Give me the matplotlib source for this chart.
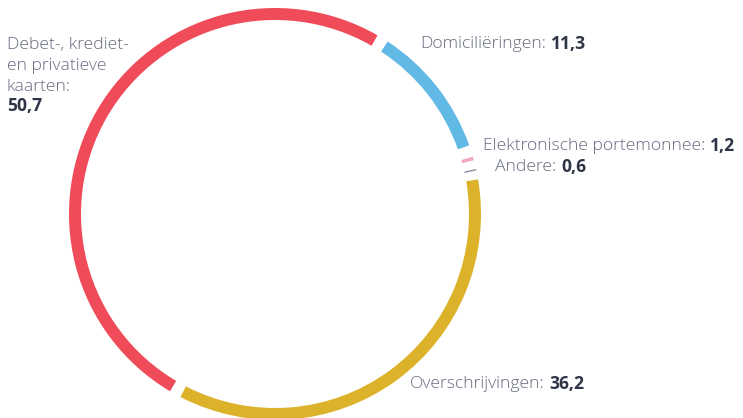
import matplotlib.pyplot as plt
from matplotlib.patches import Wedge

# Data
labels = ["Domiciliëringen", "Elektronische portemonnee", "Andere",
          "Overschrijvingen", "Debet-, krediet-\nen privatieve\nkaarten"]
values = [11.3, 1.2, 0.6, 36.2, 50.7]
value_text = ["11,3", "1,2", "0,6", "36,2", "50,7"]
colors = ["#62B9E6", "#F3A9C4", "#8C90A0", "#DDB22B", "#F04B59"]

W, H = 743, 418
fig = plt.figure(figsize=(W / 100, H / 100), dpi=100)
ax = fig.add_axes([0, 0, 1, 1])
ax.set_xlim(0, W)
ax.set_ylim(0, H)
ax.set_aspect("equal")
ax.axis("off")

# ring, drawn clockwise from ~31 deg right of the top, with a padding angle
cx, cy = 275, H - 214
r_out, ring_w = 206, 12
start = 31.5   # degrees clockwise from 12 o'clock
pad = 3.3      # degrees of white between segments
total = sum(values)
a = start
for v, c in zip(values, colors):
    span = v / total * 360
    a0, a1 = a + pad / 2, a + span - pad / 2
    if a1 - a0 < 0.4:  # too small after padding -> thin tick at the middle
        mid = a + span / 2
        a0, a1 = mid - 0.2, mid + 0.2
    ax.add_patch(Wedge((cx, cy), r_out, 90 - a1, 90 - a0, width=ring_w,
                       facecolor=c, edgecolor="none"))
    a += span

txt_col = "#666B80"
num_col = "#2F3447"
fs = 12.6
font = "Open Sans"

# label anchor positions (pixel coords from top-left)
label_pos = [(420, 44), (483, 146), (495, 167), (410, 384)]

fig.canvas.draw()
renderer = fig.canvas.get_renderer()
for i, (x, y) in enumerate(label_pos):
    t = ax.text(x, H - y, labels[i] + ":", fontsize=fs, color=txt_col,
                family=font, weight=300, va="center", ha="left")
    bb = t.get_window_extent(renderer)
    ax.text(bb.x1 + 5, H - y, value_text[i], fontsize=fs, color=num_col,
            family=font, weight="bold", va="center", ha="left")

# multi-line label for the cards
lines = (labels[4] + ":").split("\n")
for k, line in enumerate(lines):
    ax.text(7, H - (45 + 21 * k), line, fontsize=fs, color=txt_col,
            family=font, weight=300, va="center", ha="left")
ax.text(7, H - 106, value_text[4], fontsize=fs, color=num_col, family=font,
        weight="bold", va="center", ha="left")

fig.savefig("out.png", dpi=100)
